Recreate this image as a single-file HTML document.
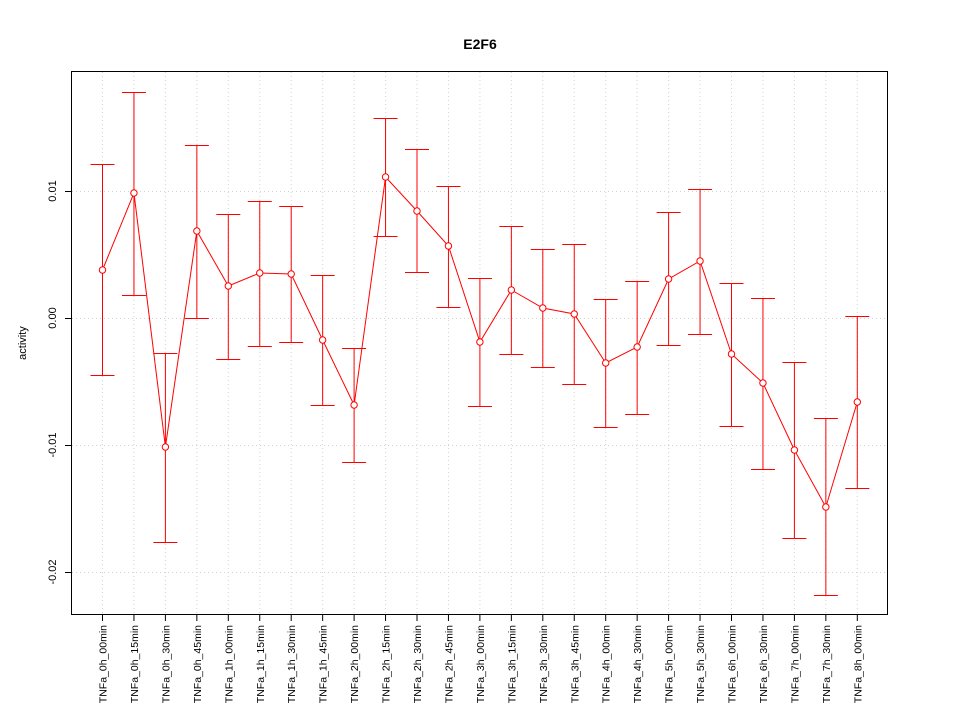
<!DOCTYPE html>
<html><head><meta charset="utf-8"><style>body{margin:0;background:#fff}</style></head><body>
<svg width="960" height="720" xmlns="http://www.w3.org/2000/svg" font-family="Liberation Sans, sans-serif">
<rect width="960" height="720" fill="#fff"/>
<text x="480" y="49" text-anchor="middle" font-size="14" font-weight="bold">E2F6</text>
<text transform="translate(26,343) rotate(-90)" text-anchor="middle" font-size="11">activity</text>
<g id="grid" stroke="#d3d3d3" stroke-dasharray="1,3" stroke-width="1"></g>
<g id="yax" font-size="11"></g>
<rect x="71.5" y="71.5" width="816" height="543" fill="none" stroke="#000"/>
<g id="plot"></g>
</svg>
<script>
var d=[[270,164,375],[193,92,295],[447,353,542],[231,145,318],[286,214,359],[273,201,346],[274,206,342],[340,275,405],[405,348,462],[177,118,236],[211,149,272],[246,186,307],[342,278,406],[290,226,354],[308,249,367],[314,244,384],[363,299,427],[347,281,414],[279,212,345],[261,189,334],[354,283,426],[383,298,469],[450,362,538],[507,418,595],[402,316,488]];
var labs=["TNFa_0h_00min","TNFa_0h_15min","TNFa_0h_30min","TNFa_0h_45min","TNFa_1h_00min","TNFa_1h_15min","TNFa_1h_30min","TNFa_1h_45min","TNFa_2h_00min","TNFa_2h_15min","TNFa_2h_30min","TNFa_2h_45min","TNFa_3h_00min","TNFa_3h_15min","TNFa_3h_30min","TNFa_3h_45min","TNFa_4h_00min","TNFa_4h_30min","TNFa_5h_00min","TNFa_5h_30min","TNFa_6h_00min","TNFa_6h_30min","TNFa_7h_00min","TNFa_7h_30min","TNFa_8h_00min"];
var ns="http://www.w3.org/2000/svg",svg=document.querySelector('svg');
function el(p,t,a,txt){var e=document.createElementNS(ns,t);for(var k in a)e.setAttribute(k,a[k]);if(txt)e.textContent=txt;p.appendChild(e);return e;}
var g=document.getElementById('grid'),ya=document.getElementById('yax'),pl=document.getElementById('plot');
function X(i){return 102.5+i*31.45;}
var yt=[[191,"0.01"],[318,"0.00"],[445,"-0.01"],[572,"-0.02"]];
yt.forEach(function(t){el(g,'line',{x1:72,x2:887,y1:t[0]+.5,y2:t[0]+.5});
el(ya,'line',{x1:65,x2:71,y1:t[0]+.5,y2:t[0]+.5,stroke:'#000'});
el(ya,'text',{transform:'translate(56,'+t[0]+') rotate(-90)','text-anchor':'middle'},t[1]);});
el(ya,'line',{x1:71.5,x2:71.5,y1:191.5,y2:572.5,stroke:'#000'});
var pts=[];
d.forEach(function(v,i){var x=X(i);
el(g,'line',{x1:x,x2:x,y1:72,y2:614});
el(ya,'line',{x1:x,x2:x,y1:615,y2:621,stroke:'#000'});
el(ya,'text',{transform:'translate('+(x+4)+',625) rotate(-90)','text-anchor':'end','font-size':'10.5'},labs[i]);
el(pl,'line',{x1:x,x2:x,y1:v[1],y2:v[2],stroke:'red'});
el(pl,'line',{x1:x-12,x2:x+12,y1:v[1]+.5,y2:v[1]+.5,stroke:'red'});
el(pl,'line',{x1:x-12,x2:x+12,y1:v[2]+.5,y2:v[2]+.5,stroke:'red'});
pts.push(x+','+v[0]);});
el(pl,'polyline',{points:pts.join(' '),fill:'none',stroke:'red'});
d.forEach(function(v,i){el(pl,'circle',{cx:X(i),cy:v[0],r:3.2,fill:'#fff',stroke:'red'});});
</script>
</body></html>
